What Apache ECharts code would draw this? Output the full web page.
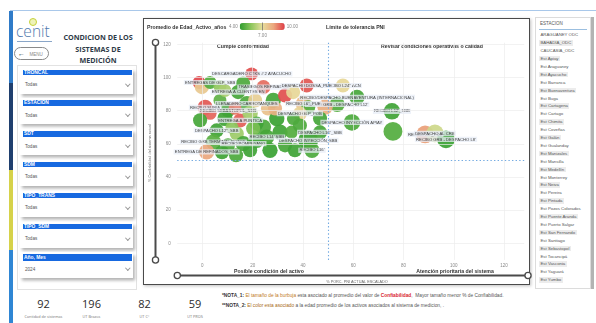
<!DOCTYPE html>
<html lang="es">
<head>
<meta charset="utf-8">
<title>Condición de los sistemas de medición</title>
<script src="https://cdn.jsdelivr.net/npm/echarts@6.0.0/dist/echarts.min.js"></script>
<style>
  html,body{margin:0;padding:0;background:#fff;}
  body{width:596px;height:323px;position:relative;overflow:hidden;font-family:"Liberation Sans",Arial,sans-serif;}
  .a{position:absolute;}
  #chart{position:absolute;left:0;top:0;width:596px;height:323px;z-index:5;}
  .card{position:absolute;left:143px;top:18px;width:387px;height:267px;background:#fff;border:1px solid #4a4a4a;box-sizing:border-box;box-shadow:1px 1px 3px rgba(0,0,0,.25);z-index:1;}
  .panel{position:absolute;left:17px;top:65px;width:120px;height:225px;background:#fff;border:1px solid #e2e2e2;box-sizing:border-box;}
  .blk{position:absolute;left:20px;width:113px;height:26px;background:#fff;box-shadow:2px 2.5px 3px rgba(0,0,0,.30);}
  .hdr{position:absolute;left:3px;top:2px;width:109px;height:5.6px;background:#1769e0;color:#fff;font-size:4.9px;line-height:5.6px;padding-left:1px;box-sizing:border-box;font-weight:bold;white-space:nowrap;}
  .val{position:absolute;left:5px;top:14.5px;font-size:4.6px;color:#555;}
  .chev{position:absolute;left:106px;top:14px;width:2.6px;height:2.6px;border-right:0.7px solid #999;border-bottom:0.7px solid #999;transform:rotate(45deg);}
  .kpi{position:absolute;width:60px;text-align:center;font-family:"Open Sans",sans-serif;color:#2b2b2b;}
  .kpin{font-size:11px;top:297px;line-height:14px;}
  .kpil{font-size:3.8px;top:314px;color:#777;line-height:5px;}
  .note{position:absolute;left:222px;font-size:4.8px;color:#555;white-space:nowrap;line-height:6px;}
  .slicer{position:absolute;left:535px;top:17px;width:56px;height:272px;background:#fff;border:1px solid #dcdcdc;box-sizing:border-box;}
  .item{position:absolute;left:3px;font-size:4.3px;color:#555;white-space:nowrap;line-height:5.4px;padding:0 1.5px;}
  .item.alt{background:#ececec;}
</style>
</head>
<body>
<!-- frame -->
<div class="a" style="left:10px;top:10px;width:586px;height:1px;background:#a9c8ea;"></div>
<div class="a" style="left:9px;top:11px;width:4px;height:72px;background:#2f7bc8;"></div>
<div class="a" style="left:9px;top:83px;width:4px;height:87px;background:#1f3f6e;"></div>
<div class="a" style="left:9px;top:170px;width:4px;height:80px;background:#d6d24a;"></div>
<div class="a" style="left:9px;top:250px;width:4px;height:73px;background:#2f86d4;"></div>

<!-- logo / title -->
<div class="a" style="left:29px;top:17.5px;width:6px;height:6px;border-radius:50%;border:1.3px solid #c5d23a;background:#eef3b8;"></div>
<div class="a" style="left:16px;top:22px;font-family:'Open Sans',sans-serif;font-weight:300;font-size:15.5px;line-height:18px;color:#4f79ad;">cenit</div>
<div class="a" style="left:17px;top:41px;width:35px;height:0.8px;background:#8aa6c8;"></div>
<div class="a" style="left:14px;top:47px;width:35px;height:13px;border:1px solid #8a8a8a;border-radius:7px;box-sizing:border-box;">
  <span class="a" style="left:3px;top:1.5px;font-size:7px;line-height:8px;color:#333;">&#8592;</span>
  <span class="a" style="left:14.5px;top:3.6px;font-size:4.5px;line-height:5px;color:#888;">MENU</span>
</div>
<div class="a" style="left:58px;top:32px;width:80px;text-align:center;font-family:'Open Sans',sans-serif;font-weight:bold;font-size:7.2px;line-height:11.6px;color:#2f3b48;">CONDICION DE LOS<br>SISTEMAS DE<br>MEDICIÓN</div>

<div class="panel"></div>
<div id="filters"></div>

<div id="kpis"></div>

<div class="note" style="top:293px;"><b style="color:#333;">*NOTA_1:</b> <span style="color:#c07a1a;">El tamaño de la burbuja</span> esta asociado al promedio del valor de <b style="color:#d8262e;">Confiabilidad</b>,&nbsp; Mayor tamaño menor % de Confiabilidad.</div>
<div class="note" style="top:303px;"><b style="color:#333;">**NOTA_2:</b> <span style="color:#a86b16;">El color esta asociado</span> a la edad promedio de los activos asociados al sistema de medicion, .</div>

<div class="card"></div>

<div class="slicer" id="slicer">
  <div class="a" style="left:4px;top:2.5px;font-size:4.5px;color:#555;">ESTACION</div>
  <div class="a" style="left:3px;top:11px;width:48px;height:0.8px;background:#9bbfe0;"></div>
</div>
<div class="a" style="left:591px;top:17px;width:3px;height:272px;background:#b3b3b3;"></div>

<div id="chart"></div>

<script>
// ---------------- DATA ----------------
const filterNames = ['TRONCAL', 'ESTACION', 'SDT', 'SDM', 'TIPO_TRANS', 'TIPO_SDM', 'Año, Mes'];
const filterValues = ['Todas', 'Todas', 'Todas', 'Todas', 'Todas', 'Todas', '2024'];

const kpiValues = [92, 196, 82, 59];
const kpiLabels = ['Cantidad de sistemas', 'UT Brazos', 'UT C°', 'UT PROS'];

const estaciones = ['ARAGUANEY ODC', 'BAHADIA_ODC', 'CAUCASIA_ODC', 'Est Apiay', 'Est Araguaney', 'Est Ayacucho',
  'Est Barranca', 'Est Buenaventura', 'Est Buga', 'Est Cartagena', 'Est Cartago', 'Est Chimita', 'Est Coveñas',
  'Est Galán', 'Est Gualanday', 'Est Manizales', 'Est Mansilla', 'Est Medellín', 'Est Monterrey', 'Est Neiva',
  'Est Pereira', 'Est Pintada', 'Est Pozos Colorados', 'Est Puente Aranda', 'Est Puerto Salgar',
  'Est San Fernando', 'Est Santiago', 'Est Sebastopol', 'Est Tocancipá', 'Est Vasconia', 'Est Yaguará', 'Est Yumbo'];

// bubbles: sistema de medición
const names = [
  'RECIBO L24" ACN', 'RECIBO/DESPACHO BUENAVENTURA (INTERNACIONAL)', "RECIBO GRB - DESPACHO L12'", "RECIBO L12'_SBB",
  'DESPACHO INYECCIÓN APIAY', '', 'RECIBO L8"_PUE', 'DESPACHO AL CRB', "RECIBO GRB - DESPACHO L8'",
  '', '', 'ENTREGAS DE GLP_SBB', '', 'ENTREGA A CLIENTES EN', 'RECIBO SURIA', '', '',
  'RECIBO SEBASTOPOL_SBB', 'ENTREGA A PUNTICA', '', 'LLENADERO CARROTANQUES', '', 'DESPACHO L12"_SBB',
  'RECIBO GRB TERMINAL POZOS', 'ENTREGA DE REFINADOS_SBB', 'RECIBO POMPEYANO', '', '', '',
  'DESCARGADERO CTKS # 2 AYACUCHO', 'TRASIEGOS REFINADOS', '', '', '', '', 'DESPACHO DOSSA_PUE', '', '', '',
  'RECIBO L6"_PUE', '', '', 'DESPACHO GLP_POB', '', '', '', '', 'DESPACHO INYECCIÓN_SBB', "RECIBO L14' SBB",
  "RECIBO L16'", 'DESPACHO L16"_SBB', '', '', '', '', '',
  '', '', '', '', '', '', '', '', '', ''
];
const pniActual = [
  55.9, 61.5, 53.6, 75.4, 59.5, 75.8, 88.6, 92.5, 96.9,
  -1.3, -0.2, 3.1, 7.0, 14.2, 1.1, 3.1, 7.0,
  10.2, 15.0, 9.0, 17.7, 13.7, 5.7,
  4.4, 1.7, 16.3, 21.6, 24.3, 19.0,
  19.6, 24.3, 16.2, 21.0, 26.1, 21.6, 41.5, 28.2, 32.9, 36.1,
  40.2, 42.1, 48.8, 38.8, 29.6, 36.2, 30.9, 35.5, 42.1, 25.6,
  43.6, 46.8, 10.2, 19.0, 9.0, 13.0, 11.8,
  -0.9, 7.8, 13.4, 26.9, 32.9, 36.8, 20.2, 38.8, 46.8, 28.9
];
const confiabilidad = [
  95.2, 88.0, 83.8, 79.6, 72.9, 67.5, 65.7, 66.3, 62.7,
  97.0, 94.2, 97.0, 94.6, 91.2, 82.0, 78.4, 86.2,
  80.2, 74.1, 75.3, 84.2, 66.1, 68.1,
  61.1, 55.1, 60.1, 62.1, 70.1, 78.3,
  102.2, 94.2, 96.4, 86.2, 81.3, 72.2, 95.2, 86.2, 89.2, 91.2,
  84.2, 82.1, 82.1, 78.2, 75.2, 75.2, 67.1, 67.1, 62.1, 64.1,
  56.1, 66.9, 59.1, 56.1, 92.2, 81.4, 70.0,
  74.2, 54.9, 53.1, 56.1, 59.1, 56.1, 69.3, 71.1, 75.3, 81.3
];
const edadActivo = [
  7.2, 4.4, 4.6, 4.3, 4.5, 4.6, 8.6, 6.6, 4.2,
  9.8, 7.6, 4.6, 5.6, 4.4, 9.6, 9.4, 4.8,
  4.4, 9.5, 4.3, 4.5, 5.8, 4.3,
  4.7, 8.5, 4.4, 4.3, 4.5, 5.9,
  9.7, 9.3, 4.5, 7.4, 7.8, 4.3, 9.6, 4.4, 9.7, 7.2,
  8.0, 4.6, 8.3, 7.3, 4.2, 4.5, 4.3, 4.6, 4.2, 4.4,
  4.5, 4.4, 4.5, 4.3, 6.0, 9.2, 5.5,
  4.4, 4.3, 4.5, 4.2, 4.4, 4.3, 5.2, 4.5, 4.4, 8.2
];
const confPromedio = [
  85, 80, 80, 75, 75, 65, 70, 70, 70,
  90, 85, 90, 90, 85, 80, 90, 90,
  85, 85, 80, 80, 85, 85,
  80, 80, 80, 80, 80, 80,
  90, 85, 85, 85, 85, 85, 85, 80, 85, 85,
  80, 85, 80, 85, 80, 90, 80, 90, 60, 80,
  80, 85, 85, 85, 90, 90, 90,
  85, 85, 85, 80, 85, 85, 85, 85, 85, 85
];
const xTicks = [0, 20, 40, 60, 80, 100, 120];
const yTicks = [0, 20, 40, 60, 80, 100, 120];
const limitePNI = 50;
const limiteConfiabilidad = 50;
const edadMin = 4, edadMid = 7, edadMax = 10;

// ---------------- HTML PARTS ----------------
const fEl = document.getElementById('filters');
filterNames.forEach((f, i) => {
  const top = 67.5 + i * 30.8;
  const b = document.createElement('div');
  b.className = 'blk';
  b.style.top = top + 'px';
  b.innerHTML = '<div class="hdr"' + (i === 6 ? ' style="height:7px;line-height:7px;"' : '') + '>' + f + '</div>' +
    '<div class="val">' + filterValues[i] + '</div><div class="chev"></div>';
  fEl.appendChild(b);
});

const kEl = document.getElementById('kpis');
const kpiCenters = [43.5, 91.5, 144.5, 195];
kpiValues.forEach((v, i) => {
  const n = document.createElement('div');
  n.className = 'kpi kpin';
  n.style.left = (kpiCenters[i] - 30) + 'px';
  n.textContent = v;
  kEl.appendChild(n);
  const l = document.createElement('div');
  l.className = 'kpi kpil';
  l.style.left = (kpiCenters[i] - 30) + 'px';
  l.textContent = kpiLabels[i];
  kEl.appendChild(l);
});

const sEl = document.getElementById('slicer');
estaciones.forEach((e, i) => {
  const d = document.createElement('div');
  d.className = 'item' + (i % 2 === 1 ? ' alt' : '');
  d.style.top = (14.3 + i * 7.9) + 'px';
  d.textContent = e;
  sEl.appendChild(d);
});

// ---------------- CHART ----------------
const labelOffsets = {
  'RECIBO L24" ACN': [0, -9],
  'RECIBO/DESPACHO BUENAVENTURA (INTERNACIONAL)': [64, -7],
  "RECIBO GRB - DESPACHO L12'": [55, -6],
  "RECIBO L12'_SBB": [0, 7],
  'DESPACHO INYECCIÓN APIAY': [-42, -3],
  'RECIBO L8"_PUE': [8, -13],
  'DESPACHO AL CRB': [-9, 13],
  "RECIBO GRB - DESPACHO L8'": [41, 0],
  'ENTREGAS DE GLP_SBB': [-1, -6],
  'DESCARGADERO CTKS # 2 AYACUCHO': [1, -7],
  'TRASIEGOS REFINADOS': [4, -10],
  'ENTREGA A CLIENTES EN': [-2, -1],
  'DESPACHO DOSSA_PUE': [-16, 1],
  'RECIBO SURIA': [0, -8],
  'LLENADERO CARROTANQUES': [3, -2],
  'RECIBO L6"_PUE': [5, -4],
  'DESPACHO GLP_POB': [8, -2],
  'RECIBO SEBASTOPOL_SBB': [10, 5],
  'ENTREGA A PUNTICA': [11, 1],
  'DESPACHO L12"_SBB': [-6, -4],
  'DESPACHO L16"_SBB': [3, -3],
  "RECIBO L14' SBB": [6, -4],
  'RECIBO GRB TERMINAL POZOS': [-5, -5],
  'DESPACHO INYECCIÓN_SBB': [-3, 4],
  'RECIBO POMPEYANO': [2, 7],
  "RECIBO L16'": [-2, 6],
  'ENTREGA DE REFINADOS_SBB': [2, 7]
};

const points = names.map((n, i) => {
  const item = { name: n, value: [pniActual[i], confiabilidad[i], edadActivo[i], confPromedio[i]] };
  if (n && labelOffsets[n]) item.label = { show: true, offset: labelOffsets[n] };
  return item;
});

const chart = echarts.init(document.getElementById('chart'), null, { renderer: 'canvas', width: 596, height: 323 });

const GRID = { left: 177.2, top: 42.7, width: 347, height: 217.2 };
const VM = { left: 229, top: 23, len: 45, thick: 7 };
const barStart = VM.left + 11;

const tickFmt = v => (v >= 0 && v % 20 === 0) ? String(v) : '';
const darkTxt = '#333';

const option = {
  animation: false,
  textStyle: { fontFamily: '"Liberation Sans", Arial, sans-serif' },
  grid: GRID,
  xAxis: {
    type: 'value', min: -10, max: 128, interval: 10,
    axisLine: { show: false }, axisTick: { show: false }, splitLine: { show: false },
    axisLabel: { formatter: tickFmt, fontSize: 4.5, color: '#8a8a8a', margin: 3.6 }
  },
  yAxis: {
    type: 'value', min: -10, max: 121, interval: 10,
    axisLine: { show: false }, axisTick: { show: false }, splitLine: { show: false },
    axisLabel: { formatter: tickFmt, fontSize: 4.5, color: '#8a8a8a', margin: 6.5 }
  },
  visualMap: {
    type: 'continuous', min: edadMin, max: edadMax, dimension: 2, seriesIndex: 1,
    orient: 'horizontal', left: VM.left, top: VM.top, padding: 0,
    itemWidth: VM.thick, itemHeight: VM.len, text: ['10.00', '4.00'], textGap: 2,
    textStyle: { fontSize: 4.5, color: '#888' }, calculable: false, hoverLink: false,
    inRange: { color: ['#2e9c2e', '#8cc65c', '#e6de9c', '#eba77e', '#df3b45'] }
  },
  series: [
    {
      type: 'scatter', data: [], silent: true, z: 0,
      markLine: {
        silent: true, symbol: ['none', 'none'], label: { show: false }, animation: false,
        lineStyle: { color: '#ececec', type: 'solid', width: 0.7 },
        data: xTicks.map(v => ({ xAxis: v })).concat(yTicks.map(v => ({ yAxis: v })))
      }
    },
    {
      type: 'scatter', z: 2,
      data: points,
      symbolSize: v => 10.5 + (100 - v[3]) * 0.24,
      itemStyle: { opacity: 0.93 },
      label: {
        show: false, position: 'inside', formatter: '{b}',
        fontSize: 4.2, color: '#333', backgroundColor: 'rgba(232,238,247,0.8)', padding: [0.6, 1.2]
      },
      labelLayout: { hideOverlap: false },
      markLine: {
        silent: true, symbol: ['none', 'none'], label: { show: false }, animation: false,
        lineStyle: { color: '#74abe2', type: [1.4, 2.2], width: 1.1 },
        data: [{ xAxis: limitePNI }, { yAxis: limiteConfiabilidad }]
      }
    }
  ],
  graphic: [
    { type: 'text', x: 147, y: 27.5, style: { text: 'Promedio de Edad_Activo_años', fontSize: 5.2, fontWeight: 'bold', fill: darkTxt, verticalAlign: 'middle' } },
    { type: 'line', shape: { x1: barStart + VM.len * (edadMid - edadMin) / (edadMax - edadMin), y1: VM.top - 0.5, x2: barStart + VM.len * (edadMid - edadMin) / (edadMax - edadMin), y2: VM.top + VM.thick + 0.5 }, style: { stroke: '#666', lineWidth: 0.7 }, z: 100 },
    { type: 'text', x: barStart + VM.len * (edadMid - edadMin) / (edadMax - edadMin), y: 35.5, style: { text: '7.00', fontSize: 4.5, fill: '#888', align: 'center', verticalAlign: 'middle' } },
    { type: 'text', x: 326, y: 27.5, style: { text: 'Límite de tolerancia PNI', fontSize: 5.2, fontWeight: 'bold', fill: darkTxt, verticalAlign: 'middle' } },
    { type: 'text', x: 243, y: 46.5, style: { text: 'Cumple conformidad', fontSize: 5.2, fontWeight: 'bold', fill: darkTxt, align: 'center', verticalAlign: 'middle' } },
    { type: 'text', x: 432, y: 46.5, style: { text: 'Revisar condiciones operativas o calidad', fontSize: 5.2, fontWeight: 'bold', fill: darkTxt, align: 'center', verticalAlign: 'middle' } },
    { type: 'text', x: 269, y: 271.5, style: { text: 'Posible condición del activo', fontSize: 5.2, fontWeight: 'bold', fill: darkTxt, align: 'center', verticalAlign: 'middle' } },
    { type: 'text', x: 455, y: 271.5, style: { text: 'Atención prioritaria del sistema', fontSize: 5.2, fontWeight: 'bold', fill: darkTxt, align: 'center', verticalAlign: 'middle' } },
    { type: 'text', x: 357, y: 282, style: { text: '% PORC. PNI ACTUAL ESCALADO', fontSize: 3.8, fill: '#666', align: 'center', verticalAlign: 'middle' } },
    { type: 'text', x: 149.5, y: 153, rotation: Math.PI / 2, style: { text: '% Confiabilidad del sistema actual', fontSize: 3.8, fill: '#666', align: 'center', verticalAlign: 'middle' } },
    // zoom sliders
    { type: 'line', shape: { x1: 155.5, y1: 45, x2: 155.5, y2: 257.5 }, style: { stroke: '#4a4a4a', lineWidth: 2 } },
    { type: 'circle', shape: { cx: 155.5, cy: 42.5, r: 3.1 }, style: { fill: '#fff', stroke: '#4a4a4a', lineWidth: 1.3 } },
    { type: 'circle', shape: { cx: 155.5, cy: 260, r: 3.1 }, style: { fill: '#fff', stroke: '#4a4a4a', lineWidth: 1.3 } },
    { type: 'line', shape: { x1: 180, y1: 275.5, x2: 525.5, y2: 275.5 }, style: { stroke: '#4a4a4a', lineWidth: 2 } },
    { type: 'circle', shape: { cx: 177.3, cy: 275.5, r: 3.1 }, style: { fill: '#fff', stroke: '#4a4a4a', lineWidth: 1.3 } },
    { type: 'circle', shape: { cx: 528, cy: 275.5, r: 3.1 }, style: { fill: '#fff', stroke: '#4a4a4a', lineWidth: 1.3 } }
  ]
};
chart.setOption(option);
</script>
</body>
</html>
